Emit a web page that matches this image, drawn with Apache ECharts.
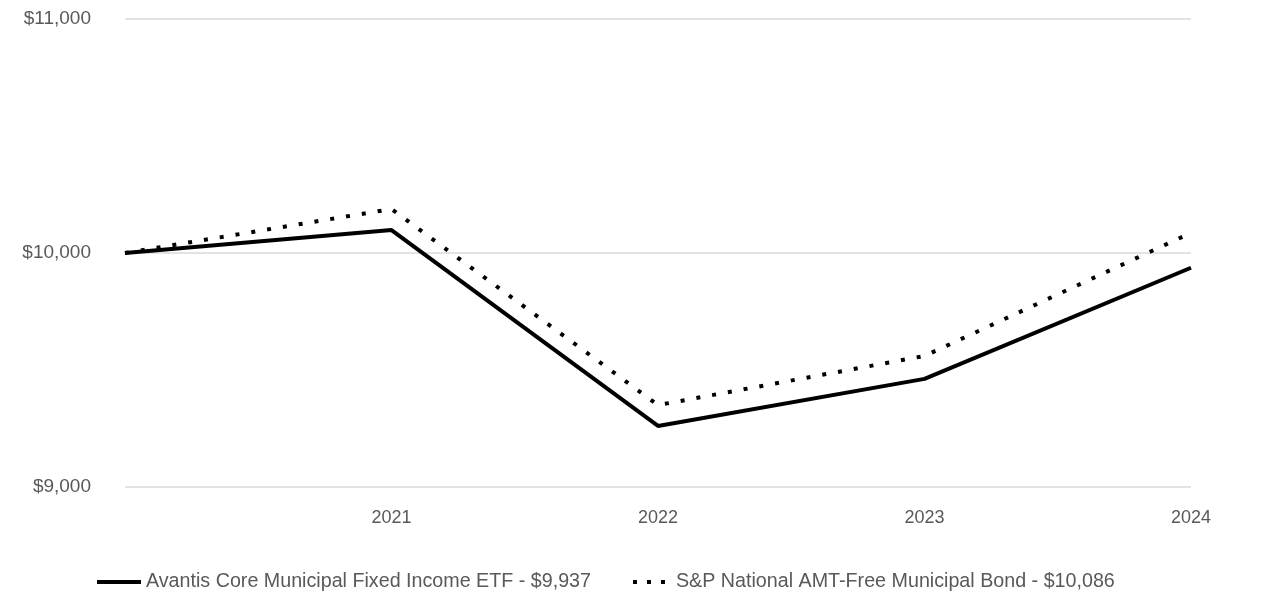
<!DOCTYPE html>
<html>
<head>
<meta charset="utf-8">
<script src="https://cdn.jsdelivr.net/npm/echarts@6/dist/echarts.min.js"></script>
<style>
html,body{margin:0;padding:0;background:#fff;}
#c{width:1286px;height:614px;}
</style>
</head>
<body>
<div id="c"></div>
<script>
var categories = ['', '2021', '2022', '2023', '2024'];
var fundName = 'Avantis Core Municipal Fixed Income ETF - $9,937';
var indexName = 'S&P National AMT-Free Municipal Bond - $10,086';
var fundValues = [10000, 10098, 9261, 9462, 9937];
var indexValues = [10000, 10188, 9350, 9560, 10086];
var yTicks = [9000, 10000, 11000];

var FONT = '"Liberation Sans", Arial, sans-serif';
var chart = echarts.init(document.getElementById('c'));
chart.setOption({
  animation: false,
  grid: {left: 125, right: 95, top: 19, bottom: 127},
  xAxis: {
    type: 'category',
    data: categories,
    boundaryGap: false,
    axisLine: {show: false},
    axisTick: {show: false},
    splitLine: {show: false},
    axisLabel: {color: '#595959', fontSize: 18, fontFamily: FONT, margin: 22, interval: 0}
  },
  yAxis: {
    type: 'value',
    min: yTicks[0],
    max: yTicks[yTicks.length - 1],
    interval: 1000,
    axisLine: {show: false},
    axisTick: {show: false},
    splitLine: {lineStyle: {color: '#e3e3e3', width: 2}},
    axisLabel: {
      color: '#595959', fontSize: 19, fontFamily: FONT, margin: 34,
      formatter: function (v) { return '$' + v.toLocaleString('en-US'); }
    }
  },
  legend: {
    top: 572,
    left: 97,
    padding: 0,
    itemWidth: 44,
    itemHeight: 4,
    itemGap: 42,
    textStyle: {color: '#595959', fontSize: 19.7, fontFamily: FONT},
    data: [
      {name: fundName, icon: 'path://M0,0H44V4H0Z'},
      {name: indexName, icon: 'path://M0,0h4v4h-4zM14,0h4v4h-4zM28,0h4v4h-4z'}
    ]
  },
  series: [
    {
      name: fundName, type: 'line', data: fundValues, symbol: 'none',
      lineStyle: {color: '#000', width: 4}, itemStyle: {color: '#000'}
    },
    {
      name: indexName, type: 'line', data: indexValues, symbol: 'none',
      lineStyle: {color: '#000', width: 4, type: [4, 12]}, itemStyle: {color: '#000'}
    }
  ]
});
</script>
</body>
</html>
